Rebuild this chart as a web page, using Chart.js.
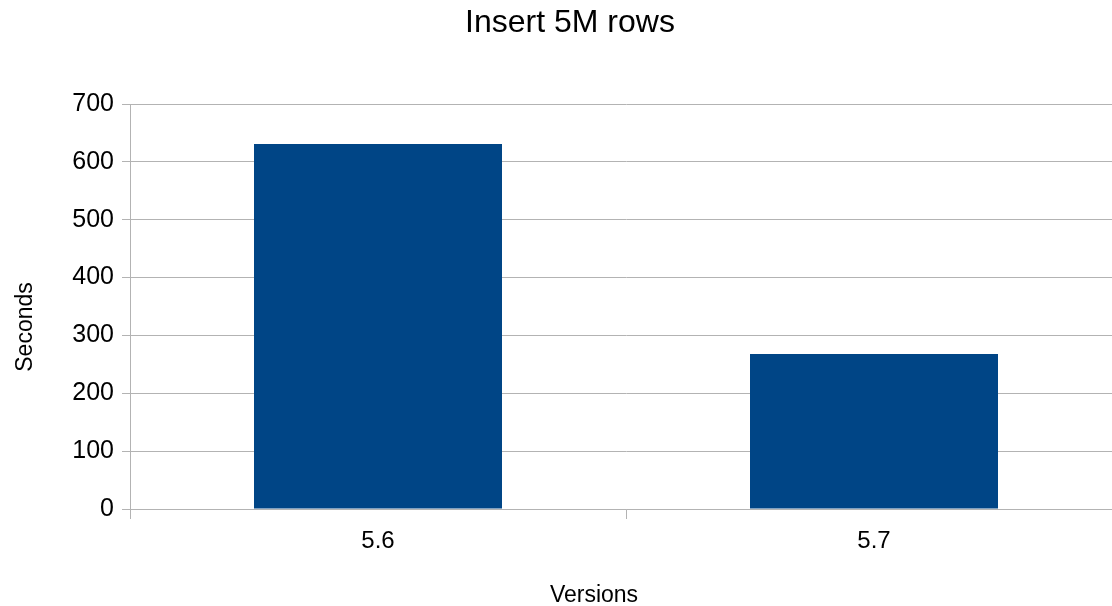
<!DOCTYPE html>
<html>
<head>
<meta charset="utf-8">
<title>Insert 5M rows</title>
<script src="https://cdn.jsdelivr.net/npm/chart.js@4/dist/chart.umd.min.js"></script>
<style>
	html, body { margin: 0; padding: 0; background: #fff; overflow: hidden; }
	#wrap { width: 1112px; height: 606px; overflow: hidden; }
</style>
</head>
<body>
<div id="wrap">
	<canvas id="chart" width="1140" height="606"></canvas>
</div>
<script>
// data for the chart
const versions = ["5.6", "5.7"];
const seconds = [631, 268];
const y_ticks = [0, 100, 200, 300, 400, 500, 600, 700];

const chart_title = "Insert 5M rows";
const x_title = "Versions";
const y_title = "Seconds";

const grid_color = "#b3b3b3";
const font_family = "'Liberation Sans', Arial, sans-serif";

const ctx = document.getElementById("chart").getContext("2d");

// draws the chart title and the two axis titles at fixed spots on the page
const captions = {
	id: "captions",
	afterDraw(chart, args, opts) {
		const c = chart.ctx;
		c.save();
		c.fillStyle = "#000";
		c.textAlign = "center";
		c.textBaseline = "alphabetic";

		c.font = `32px ${font_family}`;
		c.fillText(opts.title, 570, 32);

		c.font = `23px ${font_family}`;
		c.fillText(opts.x, 594, 602);

		c.translate(32, 327);
		c.rotate(-Math.PI / 2);
		c.fillText(opts.y, 0, 0);
		c.restore();
	}
};

let my_chart = new Chart(ctx, {
	type: "bar",
	data: {
		labels: versions,
		datasets: [{
			label: y_title,
			data: seconds,
			backgroundColor: "#004586",
			borderWidth: 0,
			barPercentage: 0.5,
			categoryPercentage: 1
		}]
	},
	options: {
		responsive: false,
		animation: false,
		layout: {
			padding: { left: 0, right: 18, top: 104, bottom: 0 }
		},
		plugins: {
			legend: { display: false },
			tooltip: { enabled: false },
			title: { display: false },
			captions: { title: chart_title, x: x_title, y: y_title }
		},
		scales: {
			x: {
				offset: true,
				grid: {
					offset: true,
					drawOnChartArea: false,
					color: grid_color,
					tickLength: 10,
					tickColor: grid_color
				},
				border: { color: grid_color },
				ticks: {
					color: "#000",
					padding: 8,
					font: { family: font_family, size: 24 }
				},
				afterFit: scale => { scale.height = 97; }
			},
			y: {
				min: 0,
				max: 700,
				afterBuildTicks: scale => {
					scale.ticks = y_ticks.map(v => ({ value: v }));
				},
				grid: {
					color: grid_color,
					tickLength: 8,
					tickColor: grid_color
				},
				border: { color: grid_color },
				ticks: {
					color: "#000",
					padding: 8,
					font: { family: font_family, size: 25 }
				},
				afterFit: scale => { scale.width = 130; }
			}
		}
	},
	plugins: [captions]
});
</script>
</body>
</html>
